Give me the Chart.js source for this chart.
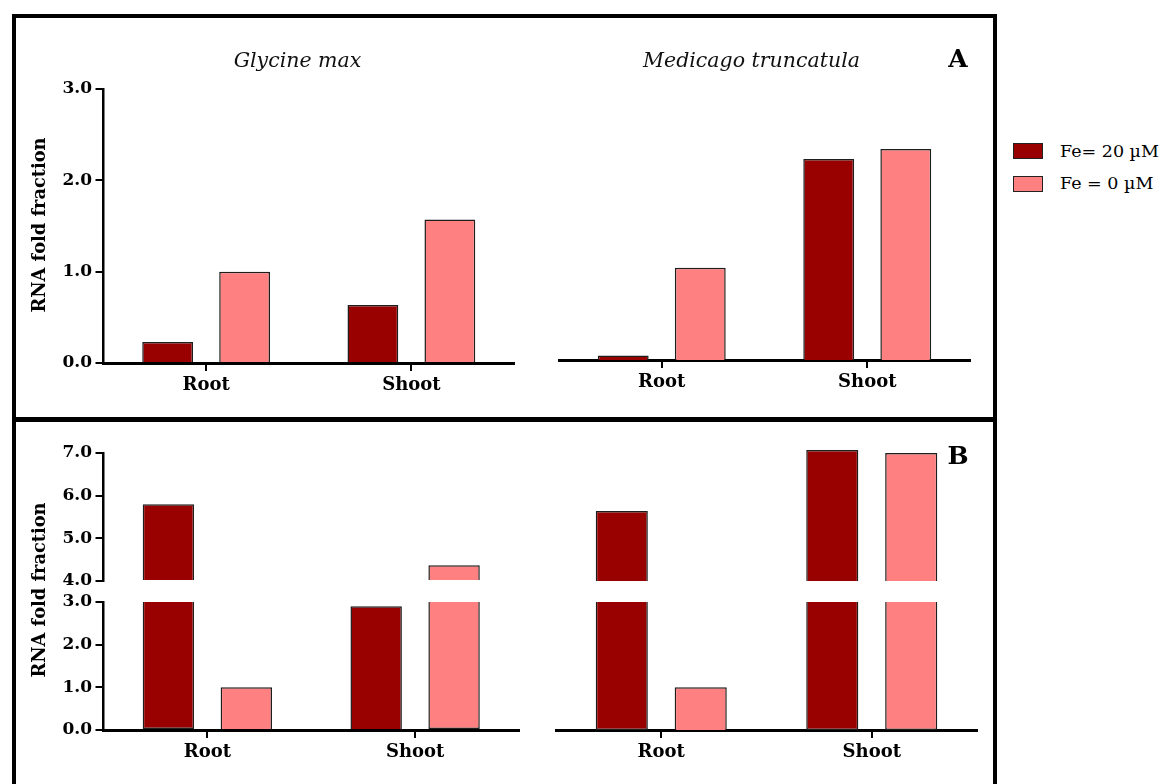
<!DOCTYPE html>
<html>
<head>
<meta charset="utf-8">
<title>RNA fold fraction under Fe supply</title>
<script src="https://cdn.jsdelivr.net/npm/chart.js@4/dist/chart.umd.min.js"></script>
<style>
  html, body { margin: 0; padding: 0; background: #fff; }
  body { width: 1162px; height: 784px; position: relative; overflow: hidden; font-family: "DejaVu Serif", serif; color: #000; }
  .frame { position: absolute; border: 4px solid #000; box-sizing: border-box; }
  canvas { position: absolute; }
  .lbl { position: absolute; white-space: nowrap; transform: translate(-50%, -50%); line-height: 1; }
  .species { font-style: italic; font-size: 20.5px; color: #111; }
  .ytitle { font-weight: bold; font-size: 17.8px; transform: translate(-50%, -50%) rotate(-90deg); }
  .tag { font-weight: bold; font-size: 25px; }
  .key { position: absolute; left: 1013px; width: 30px; height: 16px; box-sizing: border-box; border: 1px solid #222; }
  .keytext { position: absolute; left: 1060px; font-size: 17.5px; line-height: 1; transform: translateY(-50%); white-space: nowrap; }
</style>
</head>
<body>
<div class="frame" style="left:12px;top:14px;width:985px;height:407px"></div>
<div class="frame" style="left:12px;top:418px;width:985px;height:380px"></div>

<canvas id="glyA" width="510" height="350" style="left:20px;top:60px"></canvas>
<canvas id="medA" width="450" height="350" style="left:540px;top:60px"></canvas>
<canvas id="glyB" width="510" height="350" style="left:20px;top:430px"></canvas>
<canvas id="medB" width="450" height="350" style="left:540px;top:430px"></canvas>

<div class="lbl species" style="left:297.5px;top:60px">Glycine max</div>
<div class="lbl species" style="left:751.5px;top:60px">Medicago truncatula</div>
<div class="lbl tag" style="left:958px;top:58px">A</div>
<div class="lbl tag" style="left:958px;top:455px">B</div>
<div class="lbl ytitle" style="left:39px;top:224.5px">RNA fold fraction</div>
<div class="lbl ytitle" style="left:39px;top:590px">RNA fold fraction</div>

<div class="key" id="key0" style="top:143px"></div>
<div class="keytext" id="keytext0" style="top:151.5px"></div>
<div class="key" id="key1" style="top:176px"></div>
<div class="keytext" id="keytext1" style="top:184px"></div>

<script>
// Categories and series
const categories = ['Root', 'Shoot'];
const seriesLabels = ['Fe= 20 µM', 'Fe = 0 µM'];
const seriesColors = ['#990000', '#ff8080'];

// Panel A: relative expression, Root / Shoot
const glycineA_fe20 = [0.23, 0.635];
const glycineA_fe0 = [1.0, 1.57];
const medicagoA_fe20 = [0.05, 2.2];
const medicagoA_fe0 = [1.01, 2.31];

// Panel B: relative expression, Root / Shoot (broken axis)
const glycineB_fe20 = [5.8, 2.9];
const glycineB_fe0 = [1.0, 4.37];
const medicagoB_fe20 = [5.64, 7.07];
const medicagoB_fe0 = [1.0, 7.0];

// Axis ticks
const ticksA = [0, 1, 2, 3];
const ticksBLow = [0, 1, 2, 3];
const ticksBHigh = [4, 5, 6, 7];

// Axis break in panel B: lower segment ends at 3, upper starts at 4
const LOW_MAX = 3;
const HIGH_MIN = 4;

Chart.defaults.font.family = '"DejaVu Serif", serif';
Chart.defaults.color = '#000';

// Legend swatches
seriesLabels.forEach((name, i) => {
  document.getElementById('key' + i).style.background = seriesColors[i];
  document.getElementById('keytext' + i).textContent = name;
});

function xScale(height) {
  return {
    type: 'category',
    offset: true,
    z: 1,
    grid: { display: true, drawOnChartArea: false, drawTicks: true, tickLength: 8, lineWidth: 2, color: '#000', offset: false },
    border: { display: true, color: '#000', width: 3 },
    ticks: { font: { size: 18, weight: 'bold' }, color: '#000', padding: 4, maxRotation: 0 },
    afterFit: s => { s.height = height; }
  };
}

function yScale(min, max, tickValues, show, width, extra) {
  return Object.assign({
    type: 'linear',
    min: min,
    max: max,
    display: show,
    grid: { display: true, drawOnChartArea: false, drawTicks: true, tickLength: 8, lineWidth: 2, color: '#000' },
    border: { display: true, color: '#000', width: 2.5 },
    ticks: { font: { size: 17, weight: 'bold' }, color: '#000', padding: 3.5, callback: v => Number(v).toFixed(1) },
    afterBuildTicks: s => { s.ticks = tickValues.map(v => ({ value: v })); },
    afterFit: s => { if (show) s.width = width; }
  }, extra || {});
}

function barSet(label, data, color, extra) {
  return Object.assign({
    label: label,
    data: data,
    backgroundColor: color,
    borderColor: '#1e1e1e',
    borderWidth: 1.5,
    categoryPercentage: 0.75,
    barPercentage: 0.66
  }, extra || {});
}

const baseOptions = {
  responsive: false,
  animation: false,
  events: [],
  plugins: { legend: { display: false }, tooltip: { enabled: false }, title: { display: false } }
};

function panelA(id, fe20, fe0, showY, padding, xHeight, yWidth) {
  return new Chart(document.getElementById(id), {
    type: 'bar',
    data: {
      labels: categories,
      datasets: [
        barSet(seriesLabels[0], fe20, seriesColors[0]),
        barSet(seriesLabels[1], fe0, seriesColors[1])
      ]
    },
    options: Object.assign({}, baseOptions, {
      layout: { padding: padding },
      scales: {
        x: xScale(xHeight),
        y: yScale(0, 3, ticksA, showY, yWidth)
      }
    })
  });
}

// Broken-axis panel: each series is split into a lower part (0..3) and an upper part (4..7)
function lowPart(vals) { return vals.map(v => Math.min(v, LOW_MAX)); }
function highPart(vals) { return vals.map(v => (v > HIGH_MIN ? v : null)); }

function panelB(id, fe20, fe0, showY, padding, xHeight, yWidth) {
  const series = [fe20, fe0];
  const stacks = ['fe20', 'fe0'];
  const datasets = [];
  series.forEach((vals, i) => {
    datasets.push(barSet(seriesLabels[i], lowPart(vals), seriesColors[i], {
      yAxisID: 'yLow',
      stack: stacks[i],
      borderSkipped: ctx => (vals[ctx.dataIndex] > LOW_MAX ? 'end' : 'start')
    }));
  });
  series.forEach((vals, i) => {
    datasets.push(barSet(seriesLabels[i], highPart(vals), seriesColors[i], {
      yAxisID: 'yHigh',
      stack: stacks[i],
      base: HIGH_MIN,
      clip: false
    }));
  });
  return new Chart(document.getElementById(id), {
    type: 'bar',
    data: { labels: categories, datasets: datasets },
    options: Object.assign({}, baseOptions, {
      layout: { padding: padding },
      scales: {
        x: xScale(xHeight),
        yLow: yScale(0, LOW_MAX, ticksBLow, showY, yWidth, { position: 'left', stack: 'broken', stackWeight: 128, stacked: false }),
        yGap: { type: 'linear', display: false, position: 'left', stack: 'broken', stackWeight: 21 },
        yHigh: yScale(HIGH_MIN, 7, ticksBHigh, showY, yWidth, { position: 'left', stack: 'broken', stackWeight: 128, stacked: false })
      }
    })
  });
}

panelA('glyA', glycineA_fe20, glycineA_fe0, true, { left: 0, top: 29, right: 16, bottom: 0 }, 47, 83.5);
panelA('medA', medicagoA_fe20, medicagoA_fe0, false, { left: 19, top: 26, right: 20, bottom: 0 }, 50, 0);
panelB('glyB', glycineB_fe20, glycineB_fe0, true, { left: 0, top: 23, right: 11, bottom: 0 }, 50, 83.5);
panelB('medB', medicagoB_fe20, medicagoB_fe0, false, { left: 16, top: 23, right: 13, bottom: 0 }, 50, 0);
</script>
</body>
</html>
